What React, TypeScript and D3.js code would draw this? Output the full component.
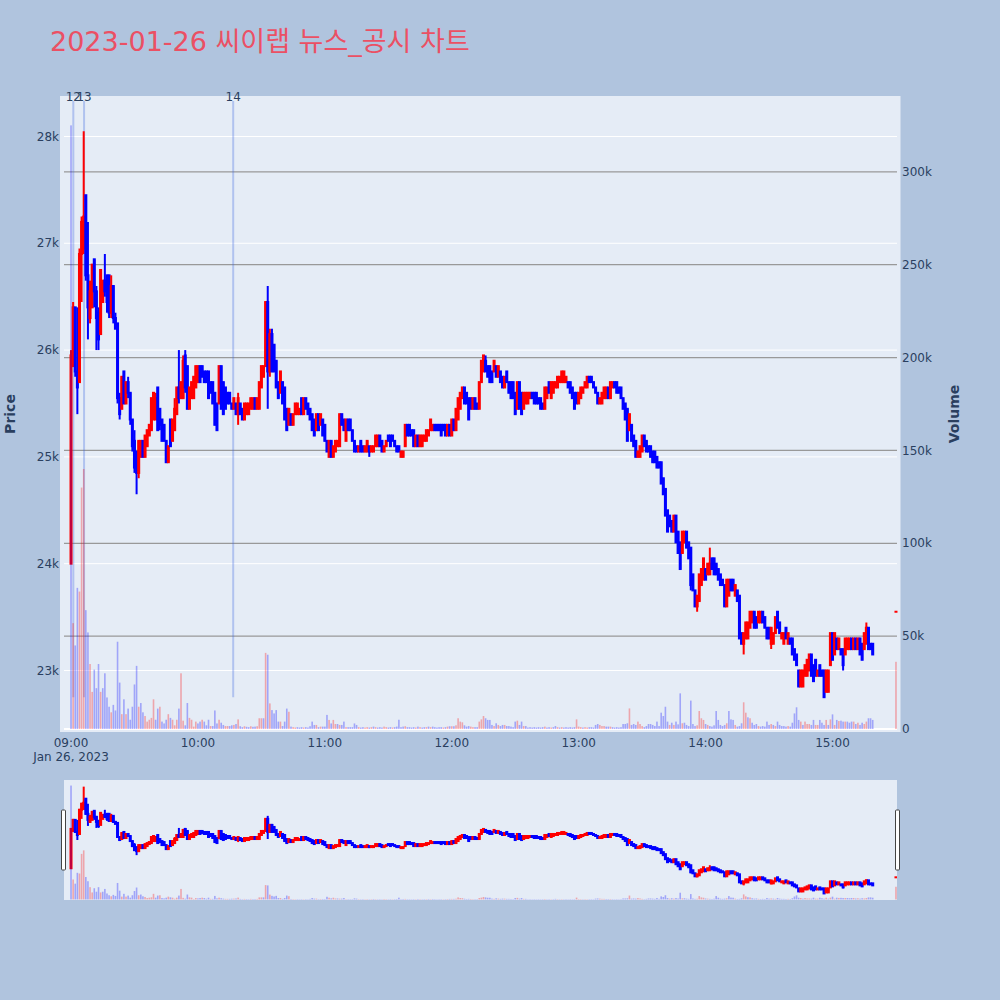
import React from "react";
import * as d3 from "d3";

const chartTitle = "2023-01-26 씨이랩 뉴스_공시 차트";
const sessionDate = "2023-01-26";
const sessionOpen = "09:00";
const regularMinutes = 380; // 09:00 .. 15:19, one candle per minute
const closingAuction = "15:30";
const xRange = ["08:56:41", "15:30:29"];

const opens = [
  24000,25850,26400,25800,25700,26900,26950,27450,26700,26300,
  26400,26850,26550,26350,26150,26450,26650,26700,26700,26350,
  26600,26300,26250,25550,25450,25800,25500,25700,25600,25350,
  25150,25050,24850,25000,25150,25000,25100,25200,25250,25350,
  25350,25650,25450,25350,25300,25150,24950,25350,25150,25250,
  25400,25650,25550,25550,25950,25850,25450,25550,25550,25650,
  25700,25850,25850,25800,25800,25800,25700,25700,25600,25500,
  25500,25850,25700,25650,25600,25600,25500,25450,25500,25400,
  25500,25450,25350,25400,25400,25450,25450,25550,25450,25450,
  25650,25750,25850,26450,
  25800,26150,26050,25900,25700,25600,25700,25650,25450,25300,
  25400,25300,25400,25400,25400,25550,25400,25550,25500,25450,
  25400,25350,25250,25400,25300,25350,25300,25150,25000,25150,
  25000,25050,25100,25100,25400,25350,25150,25350,25350,25250,
  25150,25100,25050,25150,25100,25050,25050,25100,25050,25050,
  25100,25100,25200,25150,25050,25100,25200,25200,25200,25150,
  25100,25100,25000,25000,25100,25300,25300,25250,25250,25100,
  25200,25100,25100,25150,25150,25200,25250,25250,25300,25300,
  25300,25300,25300,25300,25200,25300,25200,25350,25250,25350,
  25450,25550,25650,25600,25550,25550,25450,25550,25500,25450,
  25700,25800,25900,25850,25850,25800,25800,25850,25750,25800,
  25750,25650,25800,25700,25700,25700,25600,25450,25700,25600,
  25450,25500,25500,25550,25600,25600,25600,25550,25550,25500,
  25450,25550,25700,25550,25600,25650,25650,25700,25700,25700,
  25700,25700,25700,25650,25600,25600,25500,25550,25600,25650,
  25650,25750,25750,25700,25650,25600,25500,25500,25550,25550,
  25650,25550,25650,25700,25700,25650,25650,25550,25500,25450,
  25250,25300,25200,25150,25000,25000,25050,25200,25150,25100,
  25100,25050,25050,25000,24950,24950,24800,24700,24500,24450,
  24400,24300,24450,24300,24200,24100,24200,24300,24200,
  24150,23900,23750,23600,23650,23800,23850,23950,23900,23900,
  24050,24050,24000,23950,23900,23850,23800,23600,23700,23850,
  23850,23700,23750,23700,23350,23250,23300,23300,23400,23450,
  23550,23500,23450,23450,23550,23500,23400,23400,23250,23250,
  23350,23550,23450,23300,23250,23400,23250,23300,23300,23200,
  23150,23000,22850,22850,22950,22950,23000,23150,23050,23100,
  22950,23050,23000,23000,22800,22800,23050,23350,23150,23300,
  23200,23200,23200,23150,23200,23200,23300,23200,23300,23200,
  23300,23250,23200,23250,23400,23250,23250,
  23550,
];

const highs = [
  26000,26450,26400,26400,26950,27250,28050,27450,27200,26650,
  26800,26850,26600,26400,26750,26650,26900,26700,26700,26700,
  26600,26350,26250,25600,25750,25800,25700,25750,25600,25350,
  25250,25050,25150,25150,25150,25200,25250,25300,25550,25600,
  25600,25650,25450,25350,25300,25150,25100,25350,25350,25550,
  25650,26000,25700,25950,26000,25850,25650,25700,25750,25850,
  25850,25850,25850,25800,25800,25800,25700,25700,25600,25500,
  25850,25850,25700,25650,25600,25600,25500,25550,25500,25600,
  25500,25450,25500,25500,25500,25550,25550,25550,25550,25700,
  25850,25850,26450,26600,
  26200,26200,26050,25900,25700,25800,25700,25650,25450,25450,
  25400,25400,25500,25500,25450,25550,25550,25550,25500,25450,
  25400,25350,25400,25400,25400,25350,25300,25150,25150,25150,
  25100,25150,25150,25400,25400,25350,25350,25350,25350,25250,
  25150,25100,25100,25150,25100,25100,25150,25100,25100,25100,
  25200,25200,25200,25150,25100,25150,25200,25200,25200,25150,
  25100,25100,25050,25050,25300,25300,25300,25250,25250,25200,
  25200,25200,25200,25200,25250,25250,25350,25300,25300,25300,
  25300,25300,25300,25300,25300,25300,25350,25350,25450,25550,
  25600,25650,25650,25600,25550,25550,25550,25550,25500,25700,
  25900,25950,25950,25850,25850,25800,25900,25850,25850,25800,
  25750,25750,25800,25700,25700,25700,25600,25700,25700,25600,
  25600,25600,25600,25600,25600,25600,25600,25550,25550,25500,
  25650,25650,25700,25700,25700,25700,25750,25750,25800,25800,
  25750,25700,25700,25650,25600,25600,25600,25650,25650,25700,
  25750,25750,25750,25700,25650,25600,25550,25600,25650,25650,
  25650,25700,25700,25700,25700,25650,25650,25550,25500,25450,
  25400,25300,25200,25150,25050,25100,25200,25200,25150,25100,
  25100,25050,25050,25000,24950,24950,24800,24700,24500,24450,
  24400,24450,24450,24300,24200,24300,24300,24300,24200,
  24150,23900,23750,23700,23900,23950,24050,23950,24000,24150,
  24050,24050,24000,23950,23900,23850,23800,23850,23850,23850,
  23850,23800,23750,23700,23350,23350,23450,23450,23550,23550,
  23550,23500,23550,23550,23550,23500,23400,23400,23400,23350,
  23500,23550,23450,23350,23350,23400,23350,23300,23300,23200,
  23150,23000,23000,23000,23050,23100,23150,23150,23050,23100,
  23000,23050,23000,23000,23000,23000,23350,23350,23350,23300,
  23300,23200,23200,23300,23300,23300,23300,23300,23300,23300,
  23300,23250,23350,23450,23400,23250,23250,
  23550,
];

const lows = [
  24000,25850,25750,25400,25700,26450,26900,26650,26100,26250,
  26400,26400,26000,26000,26150,26450,26500,26350,26300,26300,
  26250,26200,25500,25350,25450,25500,25500,25550,25300,25050,
  24850,24650,24800,25000,25000,25000,25100,25200,25250,25350,
  25350,25250,25250,25150,25150,24950,24950,25100,25150,25250,
  25400,25500,25550,25550,25600,25450,25450,25550,25550,25650,
  25700,25700,25750,25700,25700,25550,25600,25500,25300,25250,
  25500,25450,25400,25450,25500,25500,25450,25450,25400,25300,
  25400,25350,25350,25400,25400,25450,25450,25450,25450,25450,
  25650,25750,25850,25450,
  25750,25800,25800,25650,25550,25600,25500,25350,25250,25300,
  25300,25300,25400,25400,25400,25400,25400,25450,25400,25350,
  25250,25200,25250,25250,25300,25200,25150,25050,25000,25000,
  25000,25050,25100,25100,25300,25250,25150,25250,25250,25150,
  25050,25050,25050,25050,25050,25050,25050,25000,25050,25050,
  25100,25100,25100,25050,25050,25100,25150,25100,25150,25100,
  25050,25050,25000,25000,25100,25200,25200,25200,25100,25100,
  25100,25100,25100,25150,25150,25200,25250,25250,25250,25250,
  25250,25200,25250,25200,25200,25200,25200,25250,25250,25350,
  25450,25550,25500,25500,25350,25450,25450,25450,25450,25450,
  25700,25800,25800,25750,25700,25700,25800,25750,25750,25700,
  25650,25650,25700,25600,25550,25550,25400,25450,25450,25400,
  25450,25500,25500,25550,25550,25500,25500,25500,25450,25450,
  25450,25550,25600,25550,25600,25650,25650,25700,25700,25700,
  25700,25650,25600,25550,25450,25500,25500,25550,25600,25650,
  25650,25700,25700,25650,25600,25500,25500,25500,25550,25550,
  25550,25550,25650,25650,25600,25600,25550,25450,25350,25150,
  25250,25150,25100,25000,25000,25000,25050,25100,25050,25050,
  25000,24950,24950,24900,24900,24750,24650,24450,24300,24350,
  24300,24300,24200,24100,23950,24100,24200,24150,24050,
  23750,23750,23600,23550,23650,23800,23850,23850,23900,23900,
  23950,23900,23900,23850,23800,23800,23600,23600,23700,23750,
  23750,23700,23650,23300,23250,23150,23300,23300,23400,23450,
  23400,23400,23450,23450,23450,23400,23300,23300,23200,23250,
  23350,23400,23350,23300,23250,23300,23250,23250,23150,23100,
  23050,22850,22850,22850,22950,22950,23000,22950,22900,22950,
  22950,22950,22950,22750,22800,22800,23050,23100,23150,23200,
  23200,23150,23000,23150,23200,23200,23200,23200,23200,23200,
  23150,23100,23200,23250,23200,23200,23150,
  23550,
];

const closes = [
  25950,26400,25800,25650,26900,27200,27250,26700,26400,26550,
  26800,26550,26300,26100,26750,26650,26550,26450,26350,26600,
  26300,26200,25550,25400,25750,25500,25700,25600,25350,25100,
  24900,24850,25150,25150,25000,25200,25250,25300,25550,25600,
  25550,25250,25300,25150,25150,24950,25100,25100,25350,25450,
  25650,25550,25700,25900,25650,25450,25650,25700,25750,25850,
  25850,25700,25750,25700,25700,25550,25600,25500,25300,25250,
  25850,25450,25400,25450,25500,25500,25450,25550,25400,25550,
  25400,25350,25500,25500,25500,25550,25550,25450,25550,25700,
  25850,25850,26450,25800,
  26150,25800,25800,25650,25550,25800,25500,25350,25250,25450,
  25300,25400,25500,25500,25450,25400,25550,25450,25400,25350,
  25250,25200,25400,25250,25400,25200,25150,25050,25150,25000,
  25100,25150,25150,25400,25300,25250,25350,25250,25250,25150,
  25050,25050,25100,25050,25050,25100,25150,25050,25100,25100,
  25200,25200,25100,25050,25100,25150,25150,25100,25150,25100,
  25050,25050,25050,25050,25300,25200,25200,25200,25100,25200,
  25100,25200,25200,25200,25250,25250,25350,25300,25250,25250,
  25250,25200,25250,25200,25300,25200,25350,25250,25450,25550,
  25600,25650,25500,25500,25350,25450,25550,25450,25450,25700,
  25900,25950,25800,25750,25700,25700,25900,25750,25850,25700,
  25650,25750,25700,25600,25550,25550,25400,25700,25450,25400,
  25600,25600,25600,25600,25550,25500,25500,25500,25450,25450,
  25650,25650,25600,25700,25700,25700,25750,25750,25800,25800,
  25750,25650,25600,25550,25450,25500,25600,25650,25650,25700,
  25750,25700,25700,25650,25600,25500,25550,25600,25650,25650,
  25550,25700,25700,25650,25600,25600,25550,25450,25350,25150,
  25400,25150,25100,25000,25050,25100,25200,25100,25050,25050,
  25000,24950,24950,24900,24900,24750,24650,24450,24300,24350,
  24300,24450,24200,24100,23950,24300,24300,24150,24050,
  23800,23750,23600,23700,23900,23950,24050,23850,24000,24000,
  23950,23900,23900,23850,23800,23800,23600,23850,23850,23750,
  23750,23800,23650,23300,23250,23350,23450,23450,23550,23550,
  23400,23400,23550,23550,23450,23400,23300,23300,23400,23350,
  23500,23400,23350,23350,23350,23300,23350,23250,23150,23100,
  23050,22850,23000,23000,23050,23100,23150,22950,22900,22950,
  23000,22950,22950,22750,23000,23000,23350,23100,23350,23200,
  23300,23150,23050,23300,23300,23300,23200,23300,23200,23300,
  23150,23100,23350,23400,23200,23200,23150,
  23550,
];

// traded volume, thousands of shares
const volumesK = [
  325,57,45,76,74,130,140,64,52,35,
  20,32,22,35,20,22,30,17,12,9,
  13,10,47,25,8,16,8,11,5,12,
  24,34,12,14,9,7,4,5,6,16,
  5,11,12,4,3,5,8,6,5,2,
  5,11,30,4.5,2,14,6,5,1.3,4,
  3,4,5,4,2,5,1.6,1.6,10,3,
  5,3.4,2.2,1.6,1.6,1.6,2,2.2,2.7,5.2,
  1.5,1,1.5,1.2,1,1.5,1.2,1.3,1.5,5.8,
  5.8,5.8,41,40,13.8,10.2,8.4,10.2,4,4,
  1.6,4,11,9.3,1.3,1,0.8,1,0.8,1,
  0.8,1,0.8,1.5,4,2.2,2.2,1,1.3,1.3,
  1.3,7.6,4.9,3,4.9,2.7,2.7,2.2,2.2,4,
  1,1,1,1,3,2.2,1,0.8,1,0.8,
  1,0.8,1,1.3,1,0.8,1,0.8,1.3,1,
  0.8,1,0.8,1,1.3,5,1,1.3,1.5,1,
  1,0.8,1,0.8,1.3,1,0.8,1,1,1.3,
  1,1.3,1,0.8,1,1,0.8,1,1.3,1.5,
  1.5,1.5,2,5.8,4,3.6,2,1.3,1.6,1.3,
  1,1,1,4,5.2,7,5.8,4.9,4.9,2.2,
  1.6,3.1,2.2,1.6,2.2,2.2,1.6,1.6,1.3,1,
  4,4.5,2.2,4,1.6,1.6,0.8,1,0.8,1,
  0.8,1,0.8,1,1.3,0.8,1,0.8,1,1.6,
  1,0.8,1,0.8,1,0.8,1,0.8,1,5.2,
  1.3,1,0.8,1,0.8,1,1,0.8,2.2,2.7,
  2.2,1.6,1.6,1.3,1.3,1.3,1,0.8,1,0.8,
  1,2.7,2.7,3.1,11.1,2.2,2.7,2.2,4,2.7,
  1.6,1,1.6,2.7,2.7,2.2,1.6,4,1.6,8.8,
  7,12,4,2.2,3.4,2.2,4,2.5,19.2,3.1,
  3.4,2.2,1.6,15.3,2.7,1.6,2,9.7,5.8,4.9,
  2.7,2.2,1.6,1.3,2,9.7,4.9,2.2,1.6,2.2,
  3.1,9.7,5.2,4.9,2.2,1.3,1.6,3.1,14.4,8.8,
  6.3,5.8,3.4,2.2,2.7,1.6,1.3,1.6,1.3,4,
  2.2,2.7,2.2,1.6,4,2.2,1.6,1.6,1.3,1.6,
  1.3,3.4,8.4,11.7,4.9,4,2.2,4,2.7,2.7,
  2.2,4.9,2.2,2.2,4.9,3.4,2.2,4.9,2.2,5.2,
  7.9,2.2,4.9,4.3,4.5,4,4,4,3.4,4,
  4,2.7,3.4,2.2,3.4,2.7,4,5.8,5.8,4.9,
  36.2,
];

const priceTicks = [23000, 24000, 25000, 26000, 27000, 28000];
const volumeTicksK = [0, 50, 100, 150, 200, 250, 300];
const timeTicks = ["09:00", "10:00", "11:00", "12:00", "13:00", "14:00", "15:00"];
const dateLabel = "Jan 26, 2023";
const newsLabels = ["12", "13", "14"];
const newsTimes = ["09:01:05", "09:06:10", "10:16:40"];
const priceDomain = [22424, 28379];
const volumeDomainK = [-1.6, 340.8];

const UP = "#ff0000";
const DOWN = "#0000ff";
const FONT = "'DejaVu Sans', Verdana, sans-serif";
const TICK = "#2a3f5f";

const parseTime = d3.timeParse("%Y-%m-%d %H:%M:%S");
const at = (hms: string) => parseTime(`${sessionDate} ${hms.length === 5 ? hms + ":00" : hms}`) as Date;

export default function App() {
  const start = at(sessionOpen);
  const times: Date[] = [
    ...d3.range(regularMinutes).map((i) => d3.timeMinute.offset(start, i)),
    at(closingAuction),
  ];
  const rows = times.map((t, i) => ({
    t,
    o: opens[i],
    h: highs[i],
    l: lows[i],
    c: closes[i],
    v: volumesK[i],
    prev: i > 0 ? closes[i - 1] : null,
  }));

  const L = 64, R = 897, T = 96, B = 732;
  const x = d3.scaleTime().domain([at(xRange[0]), at(xRange[1])]).range([L, R]);
  const yP = d3.scaleLinear().domain(priceDomain).range([B, T]);
  const yV = d3.scaleLinear().domain(volumeDomainK).range([B, T]);
  const sT = 780, sB = 900;
  const syP = d3.scaleLinear().domain(priceDomain).range([sB, sT]);
  const syV = d3.scaleLinear().domain(volumeDomainK).range([sB, sT]);

  const candleColor = (r: any) =>
    r.c > r.o ? UP : r.c < r.o ? DOWN : r.prev !== null && r.c > r.prev ? UP : DOWN;
  const volColor = (r: any) => (r.prev !== null && r.c > r.prev ? UP : DOWN);

  const candles = (py: d3.ScaleLinear<number, number>, key: string) =>
    rows.map((r, i) => {
      const cx = x(r.t);
      const col = candleColor(r);
      const top = py(Math.max(r.o, r.c));
      const bot = py(Math.min(r.o, r.c));
      return (
        <g key={key + i}>
          <line x1={cx} x2={cx} y1={py(r.h)} y2={py(r.l)} stroke={col} strokeWidth={2} />
          <rect x={cx - 1.5} y={top - 1} width={3} height={bot - top + 2} fill={col} />
        </g>
      );
    });

  const bars = (vy: d3.ScaleLinear<number, number>, key: string) =>
    rows.map((r, i) => {
      const cx = x(r.t);
      return (
        <rect
          key={key + i}
          x={cx - 0.8}
          y={vy(r.v)}
          width={1.6}
          height={vy(0) - vy(r.v)}
          fill={volColor(r)}
          fillOpacity={0.3}
        />
      );
    });

  const minLow = d3.min(lows) as number;

  return (
    <div style={{ position: "absolute", left: 0, top: 0, width: 1000, height: 1000 }}>
      <svg width={1000} height={1000} style={{ display: "block" }}>
        <defs>
          <clipPath id="mainClip">
            <rect x={60} y={T} width={840.5} height={B - T} />
          </clipPath>
          <clipPath id="sliderClip">
            <rect x={L} y={sT} width={R - L} height={sB - sT} />
          </clipPath>
        </defs>
        <rect x={0} y={0} width={1000} height={1000} fill="#B0C4DE" />
        <text x={50} y={51} fontFamily={`${FONT}, 'Noto Sans CJK KR'`} fontSize={27} fill="#EB5064">
          {chartTitle}
        </text>

        {/* main plot */}
        <rect x={60} y={T} width={840.5} height={B - T} fill="#E5ECF6" />
        {priceTicks.map((p) => (
          <line key={"pg" + p} x1={L} x2={R} y1={yP(p)} y2={yP(p)} stroke="#ffffff" strokeWidth={1} />
        ))}
        {volumeTicksK.filter((v) => v > 0).map((v) => (
          <line key={"vg" + v} x1={L} x2={R} y1={yV(v)} y2={yV(v)} stroke="#999999" strokeWidth={1.2} />
        ))}
        <line x1={L} x2={R} y1={yV(0)} y2={yV(0)} stroke="#ffffff" strokeWidth={2} />

        <g clipPath="url(#mainClip)">
          {newsTimes.map((t, i) => (
            <line key={"nl" + i} x1={x(at(t))} x2={x(at(t))} y1={101} y2={yP(minLow)}
              stroke="royalblue" strokeOpacity={0.32} strokeWidth={2} />
          ))}
          {candles(yP, "c")}
          {bars(yV, "v")}
        </g>
        {newsTimes.map((t, i) => (
          <text key={"nt" + i} x={x(at(t))} y={101} textAnchor="middle" fontFamily={FONT} fontSize={12} fill={TICK}>
            {newsLabels[i]}
          </text>
        ))}

        {/* axes labels */}
        {priceTicks.map((p) => (
          <text key={"pt" + p} x={59} y={yP(p)} dy="0.35em" textAnchor="end" fontFamily={FONT} fontSize={12} fill={TICK}>
            {`${p / 1000}k`}
          </text>
        ))}
        {volumeTicksK.map((v) => (
          <text key={"vt" + v} x={902} y={yV(v)} dy="0.35em" textAnchor="start" fontFamily={FONT} fontSize={12} fill={TICK}>
            {v === 0 ? "0" : `${v}k`}
          </text>
        ))}
        {timeTicks.map((tt) => (
          <text key={"tt" + tt} x={x(at(tt))} y={747} textAnchor="middle" fontFamily={FONT} fontSize={12} fill={TICK}>
            {tt}
          </text>
        ))}
        <text x={x(at(timeTicks[0]))} y={761} textAnchor="middle" fontFamily={FONT} fontSize={12} fill={TICK}>
          {dateLabel}
        </text>
        <text transform={`translate(15,${(T + B) / 2}) rotate(-90)`} textAnchor="middle" fontFamily={FONT}
          fontSize={14} fontWeight="bold" fill={TICK}>
          Price
        </text>
        <text transform={`translate(959,${(T + B) / 2}) rotate(-90)`} textAnchor="middle" fontFamily={FONT}
          fontSize={14} fontWeight="bold" fill={TICK}>
          Volume
        </text>

        {/* range slider */}
        <rect x={L} y={sT} width={R - L} height={sB - sT} fill="#E5ECF6" />
        <g clipPath="url(#sliderClip)">
          {candles(syP, "sc")}
          {bars(syV, "sv")}
        </g>
        <rect x={61.5} y={810} width={4} height={60} rx={1} fill="#ffffff" stroke="#444444" strokeWidth={1} />
        <rect x={895.5} y={810} width={4} height={60} rx={1} fill="#ffffff" stroke="#444444" strokeWidth={1} />
      </svg>
    </div>
  );
}
